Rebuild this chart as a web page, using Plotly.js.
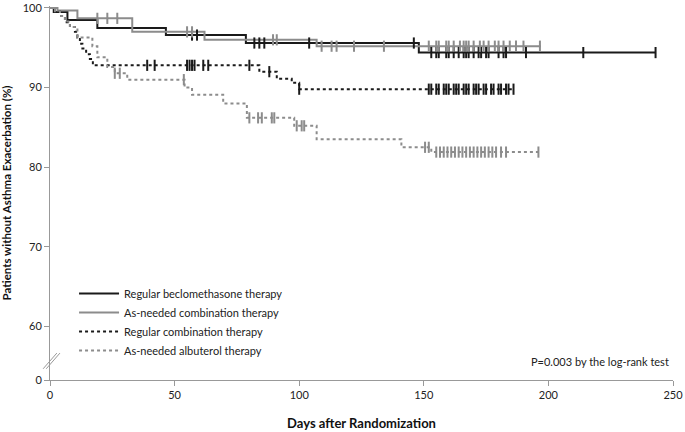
<!DOCTYPE html>
<html>
<head>
<meta charset="utf-8">
<script src="https://cdn.plot.ly/plotly-3.0.1.min.js"></script>
<style>
  html, body { margin: 0; padding: 0; background: #fff; }
  #chart { width: 685px; height: 432px; }
</style>
</head>
<body>
<div id="chart"></div>
<script>
// Kaplan-Meier step points (day, % without exacerbation)
const becloDays = [0, 1.5, 7, 19, 46.5, 78.6, 148, 243];
const becloPct = [100, 99.5, 98.5, 97.5, 96.6, 95.6, 94.4, 94.4];
const asNeededComboDays = [0, 3, 11, 33, 62, 107, 197];
const asNeededComboPct = [100, 99.7, 98.7, 97.0, 96.0, 95.2, 95.2];
const regularComboDays = [0, 2, 4, 6, 8, 10, 11, 12, 13, 14.5, 16, 17.2, 84, 91, 97, 100, 186];
const regularComboPct = [100, 99.6, 99.0, 98.2, 97.6, 97.0, 96.3, 95.5, 94.9, 94.2, 93.6, 92.8, 92.0, 91.1, 90.6, 89.8, 89.8];
const albuterolDays = [0, 2, 4, 6, 8, 11, 17, 19, 23, 26, 31, 54, 57, 69.5, 79, 98, 107, 141, 153, 196];
const albuterolPct = [100, 99.6, 99.0, 98.3, 97.6, 96.3, 95.2, 93.8, 92.6, 91.8, 91.0, 90.0, 89.1, 88.0, 86.2, 85.2, 83.5, 82.5, 81.9, 81.9];

// censored observations (days)
const becloCensor = [57, 59, 82, 84, 86, 104, 146, 153, 155, 156, 159, 160, 162, 164, 166, 167, 168, 170, 172, 173, 175, 176, 180, 182, 183, 191, 214, 243];
const asNeededComboCensor = [19, 23, 27, 55, 57, 89.5, 91, 109, 113, 115, 122, 134, 152, 155, 156, 159, 160, 162, 164.5, 166, 167, 168, 170, 172.5, 174, 176, 178.5, 180, 182, 184.5, 187, 190, 196.6];
const regularComboCensor = [39, 42, 55, 56, 57, 58, 61.5, 63.5, 80, 88, 100, 152, 153, 155, 156, 158, 159, 160, 162, 163, 164, 166, 167, 168, 170, 171, 172, 174, 175, 177, 178, 180, 181, 183, 184, 186];
const albuterolCensor = [26, 28, 53.7, 80, 83.5, 85, 89, 90, 99, 101, 102, 150.5, 152, 155, 156.5, 158, 159.5, 161, 162.5, 164, 165.5, 167, 168.5, 170, 171.5, 173, 174.5, 176, 177.5, 179, 181, 183, 196];

const seriesNames = [
  "Regular beclomethasone therapy",
  "As-needed combination therapy",
  "Regular combination therapy",
  "As-needed albuterol therapy"
];
const yTickVals = [53.27, 60, 70, 80, 90, 100];
const yTickText = ["0", "60", "70", "80", "90", "100"];
const xTickVals = [0, 50, 100, 150, 200, 250];

const BLACK = "#1a1a1a";
const GREY = "#8c8c8c";

function pctAt(days, pct, t) {
  let v = pct[0];
  for (let i = 0; i < days.length; i++) {
    if (days[i] <= t) v = pct[i];
  }
  return v;
}

const groups = [
  { name: seriesNames[0], d: becloDays, p: becloPct, c: becloCensor, color: BLACK, dash: "solid" },
  { name: seriesNames[1], d: asNeededComboDays, p: asNeededComboPct, c: asNeededComboCensor, color: GREY, dash: "solid" },
  { name: seriesNames[2], d: regularComboDays, p: regularComboPct, c: regularComboCensor, color: BLACK, dash: "dot" },
  { name: seriesNames[3], d: albuterolDays, p: albuterolPct, c: albuterolCensor, color: GREY, dash: "dot" }
];

const traces = [];
groups.forEach((g) => {
  traces.push({
    x: g.d,
    y: g.p,
    type: "scatter",
    mode: "lines",
    name: g.name,
    line: { color: g.color, width: 2, dash: g.dash, shape: "hv" },
    hoverinfo: "skip",
    cliponaxis: false
  });
});
groups.forEach((g) => {
  traces.push({
    x: g.c,
    y: g.c.map((t) => pctAt(g.d, g.p, t)),
    type: "scatter",
    mode: "markers",
    showlegend: false,
    marker: { symbol: "line-ns", size: 8, line: { color: g.color, width: 2 } },
    hoverinfo: "skip",
    cliponaxis: false
  });
});

const FONT = "Lato, 'Open Sans', sans-serif";

const layout = {
  width: 685,
  height: 432,
  margin: { l: 50, r: 12, t: 6, b: 52 },
  paper_bgcolor: "#fff",
  plot_bgcolor: "#fff",
  font: { family: FONT, size: 11, color: "#222" },
  showlegend: true,
  legend: {
    x: 0.0386,
    y: 0.27,
    xanchor: "left",
    yanchor: "top",
    itemwidth: 40,
    bgcolor: "rgba(0,0,0,0)",
    font: { family: FONT, size: 11, color: "#222" },
    tracegroupgap: 0
  },
  xaxis: {
    range: [0, 250],
    tickvals: xTickVals,
    ticks: "outside",
    ticklen: 5,
    tickcolor: "#999",
    showline: true,
    linecolor: "#999",
    linewidth: 1,
    showgrid: false,
    zeroline: false,
    title: { text: "<b>Days after Randomization</b>", font: { family: FONT, size: 13, color: "#111" }, standoff: 18 }
  },
  yaxis: {
    range: [53.27, 100.25],
    tickvals: yTickVals,
    ticktext: yTickText,
    ticks: "outside",
    ticklen: 5,
    tickcolor: "#999",
    showline: true,
    linecolor: "#999",
    linewidth: 1,
    showgrid: false,
    zeroline: false,
    title: { text: "<b>Patients without Asthma Exacerbation (%)</b>", font: { family: FONT, size: 11.5, color: "#111" }, standoff: 8 }
  },
  shapes: [
    { type: "line", xref: "paper", yref: "paper", x0: -0.011, y0: 0.03, x1: 0.011, y1: 0.072, line: { color: "#999", width: 1 } },
    { type: "line", xref: "paper", yref: "paper", x0: -0.006, y0: 0.03, x1: 0.016, y1: 0.072, line: { color: "#999", width: 1 } }
  ],
  annotations: [
    {
      xref: "paper", yref: "paper", x: 0.997, y: 0.05, xanchor: "right", yanchor: "middle",
      text: "P=0.003 by the log-rank test", showarrow: false,
      font: { family: FONT, size: 11, color: "#222" }
    }
  ]
};

Plotly.newPlot("chart", traces, layout, { displayModeBar: false, staticPlot: true });
</script>
</body>
</html>
